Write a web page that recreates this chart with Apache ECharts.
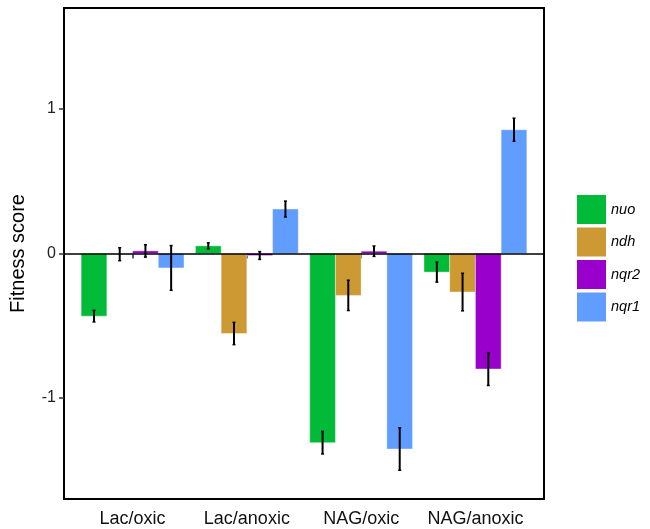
<!DOCTYPE html>
<html>
<head>
<meta charset="utf-8">
<script src="https://cdn.jsdelivr.net/npm/echarts@6/dist/echarts.min.js"></script>
<style>html,body{margin:0;padding:0;background:#fff;}#c{width:650px;height:529px;}</style>
</head>
<body>
<div id="c"></div>
<script>
var categories = ['Lac/oxic', 'Lac/anoxic', 'NAG/oxic', 'NAG/anoxic'];
var genes = ['nuo', 'ndh', 'nqr2', 'nqr1'];
var colors = ['#00BA38', '#CC9933', '#9900CC', '#619CFF'];
var nuoVals = [-0.434, 0.053, -1.31, -0.129];
var nuoErr = [0.04, 0.021, 0.078, 0.069];
var ndhVals = [-0.005, -0.554, -0.29, -0.267];
var ndhErr = [0.045, 0.077, 0.105, 0.13];
var nqr2Vals = [0.018, -0.014, 0.016, -0.80];
var nqr2Err = [0.043, 0.027, 0.036, 0.114];
var nqr1Vals = [-0.10, 0.308, -1.354, 0.857];
var nqr1Err = [0.155, 0.055, 0.147, 0.08];
var yTicks = [-1, 0, 1];

var allVals = [nuoVals, ndhVals, nqr2Vals, nqr1Vals];
var allErr = [nuoErr, ndhErr, nqr2Err, nqr1Err];
var dodge = 0.9, nG = genes.length, bw = dodge / nG;

var series = genes.map(function (g, gi) {
  var data = categories.map(function (c, ci) {
    return [ci + 1, allVals[gi][ci], allErr[gi][ci]];
  });
  return {
    name: g,
    type: 'custom',
    itemStyle: { color: colors[gi] },
    data: data,
    z: 2 + gi,
    renderItem: function (params, api) {
      var xc = api.value(0) - dodge / 2 + bw * (gi + 0.5);
      var v = api.value(1), e = api.value(2);
      var p0 = api.coord([xc - bw / 2, 0]);
      var p1 = api.coord([xc + bw / 2, v]);
      var top = api.coord([xc, v + e]);
      var bot = api.coord([xc, v - e]);
      var cap = 1.5;
      return {
        type: 'group',
        children: [
          { type: 'rect', shape: { x: Math.min(p0[0], p1[0]), y: Math.min(p0[1], p1[1]), width: Math.abs(p1[0] - p0[0]), height: Math.abs(p1[1] - p0[1]) },
            style: { fill: colors[gi], stroke: 'rgba(255,255,255,0.5)', lineWidth: 0.8 } },
          { type: 'line', shape: { x1: top[0], y1: top[1], x2: bot[0], y2: bot[1] }, style: { stroke: '#000', lineWidth: 2 }, z2: 10 },
          { type: 'line', shape: { x1: top[0] - cap, y1: top[1], x2: top[0] + cap, y2: top[1] }, style: { stroke: '#000', lineWidth: 1.5 }, z2: 10 },
          { type: 'line', shape: { x1: bot[0] - cap, y1: bot[1], x2: bot[0] + cap, y2: bot[1] }, style: { stroke: '#000', lineWidth: 1.5 }, z2: 10 }
        ]
      };
    }
  };
});
series[0].markLine = {
  silent: true, symbol: 'none', label: { show: false },
  lineStyle: { color: '#000', type: 'solid', width: 1.6 },
  data: [{ yAxis: 0 }], z: 20
};

var chart = echarts.init(document.getElementById('c'), null, { renderer: 'canvas' });
chart.setOption({
  animation: false,
  backgroundColor: '#fff',
  grid: { left: 63, right: 106, top: 8, bottom: 30, show: true, borderColor: '#000', borderWidth: 2, backgroundColor: 'transparent' },
  legend: {
    orient: 'vertical', left: 572, top: 190,
    itemWidth: 29, itemHeight: 29, itemGap: 3.5,
    icon: 'rect',
    data: genes,
    textStyle: { fontStyle: 'italic', fontSize: 14.5, color: '#000', fontFamily: 'Liberation Sans, Arial, sans-serif', padding: [0, 0, 0, 0] }
  },
  xAxis: {
    type: 'value', min: 0.4, max: 4.6,
    axisLine: { show: false },
    splitLine: { show: false },
    axisTick: { show: true, length: 5, lineStyle: { color: '#333', width: 1.5 }, customValues: [1, 2, 3, 4] },
    axisLabel: {
      customValues: [1, 2, 3, 4], margin: 11,
      formatter: function (v) { return categories[Math.round(v) - 1] || ''; },
      fontSize: 18, color: '#111', fontFamily: 'Liberation Sans, Arial, sans-serif'
    }
  },
  yAxis: {
    type: 'value', min: -1.7, max: 1.7,
    name: 'Fitness score', nameLocation: 'middle', nameGap: 36,
    nameTextStyle: { fontSize: 20, color: '#000', fontFamily: 'Liberation Sans, Arial, sans-serif' },
    axisLine: { show: false },
    splitLine: { show: false },
    axisTick: { show: true, length: 5, lineStyle: { color: '#333', width: 1.5 }, customValues: yTicks },
    axisLabel: { customValues: yTicks, margin: 8, fontSize: 16, color: '#222', fontFamily: 'Liberation Sans, Arial, sans-serif' }
  },
  series: series
});
</script>
</body>
</html>
